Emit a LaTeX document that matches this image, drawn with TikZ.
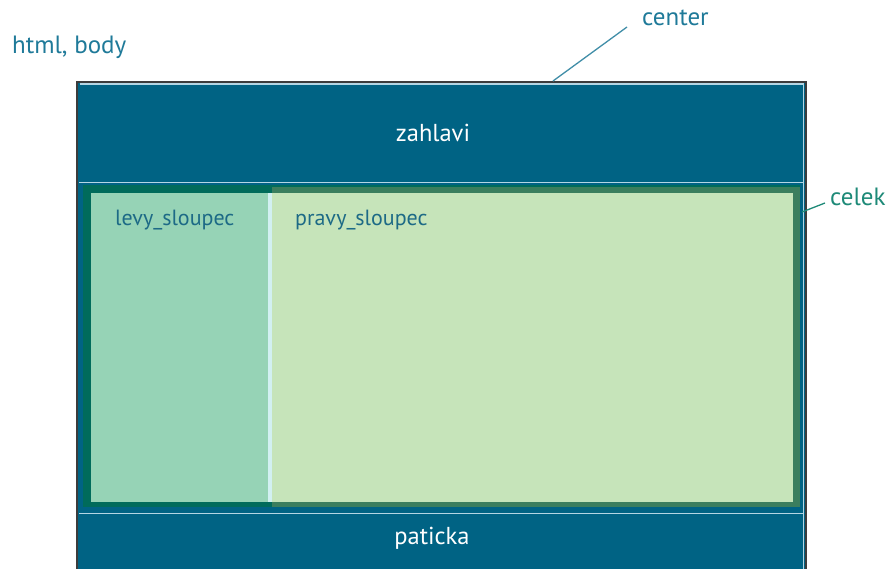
\documentclass[tikz,border=0pt]{standalone}
\usepackage{fontspec}
\setmainfont{PT Sans}
\begin{document}
\begin{tikzpicture}[x=1pt,y=-1pt,
  lbl/.style={inner sep=0pt,anchor=west,font=\fontsize{25}{28}\selectfont},
  boxtxt/.style={inner sep=0pt,text=white,font=\fontsize{24.5}{28}\selectfont},
  coltxt/.style={inner sep=0pt,text=coltext,font=\fontsize{22}{25}\selectfont,anchor=west},
  leader/.style={line width=1.3pt}]
\definecolor{pageblue}{HTML}{006384}
\definecolor{frame}{HTML}{3C3C3C}
\definecolor{sepline}{HTML}{B4D6E4}
\definecolor{celekgreen}{HTML}{006B5B}
\definecolor{rightborder}{HTML}{3B7E5E}
\definecolor{leftfill}{HTML}{96D3B6}
\definecolor{rightfill}{HTML}{C6E4BA}
\definecolor{gap}{HTML}{D2F0F2}
\definecolor{outtext}{HTML}{1F7A99}
\definecolor{celektext}{HTML}{1E8A78}
\definecolor{coltext}{HTML}{1D6A86}
\useasboundingbox (0,0) rectangle (889,568);
\fill[white] (0,0) rectangle (889,568);
% center block
\fill[pageblue] (78,83) rectangle (805,575);
\draw[sepline,line width=1.2pt] (79.5,84) -- (803.5,84) -- (803.5,575);
\draw[frame,line width=2pt] (77,575) -- (77,82) -- (806,82) -- (806,575);
\draw[sepline,line width=1.6pt] (79,182.5) -- (804,182.5);
\draw[sepline,line width=1.6pt] (79,513.5) -- (804,513.5);
% celek with the two columns
\fill[celekgreen] (83,185) rectangle (800,507);
\fill[leftfill] (91,193) rectangle (268,502);
\fill[gap] (268,193) rectangle (272,502);
\fill[rightborder] (272,187) rectangle (800,507);
\fill[rightfill] (272,193) rectangle (793,502);
% labels
\node[boxtxt] (zahlavi) at (433,133) {zahlavi};
\node[boxtxt] (paticka) at (432,538) {paticka};
\node[coltxt] (levy) at (115,220) {levy\_sloupec};
\node[coltxt] (pravy) at (295,220) {pravy\_sloupec};
\node[lbl,text=outtext] (html) at (12,47) {html, body};
\node[lbl,text=outtext] (center) at (642,18) {center};
\node[lbl,text=celektext] (celek) at (830,197) {celek};
\coordinate (centeredge) at (553,81);
\coordinate (celekedge) at (802,212);
\draw[leader,outtext!85] (627,27) -- (centeredge);
\draw[leader,celektext] (825,203) -- (celekedge);
\end{tikzpicture}
\end{document}
